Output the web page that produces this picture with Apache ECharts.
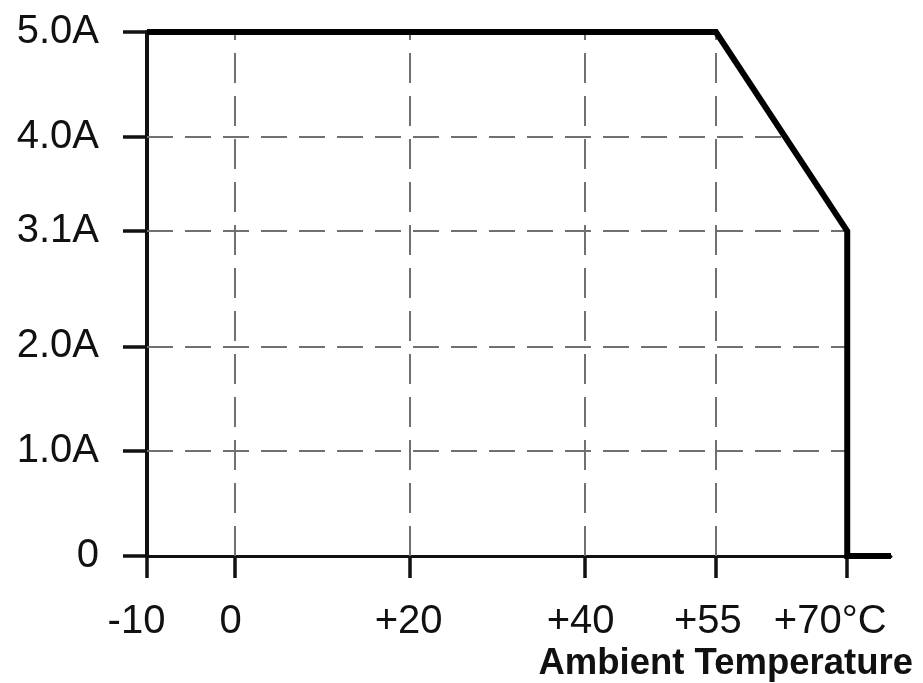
<!DOCTYPE html>
<html>
<head>
<meta charset="utf-8">
<script src="https://cdn.jsdelivr.net/npm/echarts@6/dist/echarts.min.js"></script>
<style>
html,body{margin:0;padding:0;background:#fff;}
#chart{width:923px;height:683px;}
</style>
</head>
<body>
<div id="chart"></div>
<script>
// ---- data ----
const curveX = [-10, 55, 70, 70, 75];
const curveY = [5.0, 5.0, 3.1, 0, 0];
const xTicks = [-10, 0, 20, 40, 55, 70];
const xTickLabels = ['-10', '0', '+20', '+40', '+55', '+70°C'];
const yTicks = [0, 1.0, 2.0, 3.1, 4.0, 5.0];
const yTickLabels = ['0', '1.0A', '2.0A', '3.1A', '4.0A', '5.0A'];
const xGridValues = [0, 20, 40, 55];
const yGridValues = [1.0, 2.0, 3.1, 4.0];
const xAxisTitle = 'Ambient Temperature';

// x of the curve at a given current (for stopping horizontal grid lines at the curve)
function curveXAt(y) {
  for (let i = 0; i < 2; i++) {
    const y0 = curveY[i], y1 = curveY[i + 1];
    if ((y <= y0 && y >= y1) && y0 !== y1) {
      return curveX[i] + (y0 - y) / (y0 - y1) * (curveX[i + 1] - curveX[i]);
    }
  }
  return curveX[2];
}

const labelShift = [21, 8, 2, 8, 16, 34];
const rich = {};
labelShift.forEach((p, i) => {
  rich['s' + i] = { fontFamily: 'Liberation Sans', fontSize: 40, color: '#111', padding: [0, p, 0, 0] };
});

const gridLineStyleH = { type: [26, 12], color: '#707070', width: 2 };
const gridLineStyleV = { type: [30, 13], color: '#707070', width: 2 };

const markData = [];
xGridValues.forEach(v => {
  markData.push([{ coord: [v, 0], lineStyle: gridLineStyleV }, { coord: [v, curveY[0]] }]);
});
yGridValues.forEach(v => {
  const xe = Math.min(curveX[2], curveXAt(v));
  markData.push([{ coord: [curveX[0], v], lineStyle: gridLineStyleH }, { coord: [xe, v] }]);
});

const chart = echarts.init(document.getElementById('chart'), null, { renderer: 'canvas' });
chart.setOption({
  animation: false,
  backgroundColor: '#fff',
  title: {
    text: xAxisTitle,
    right: 5,
    top: 640,
    textStyle: { fontFamily: 'Liberation Sans', fontWeight: 'bold', fontSize: 36.5, color: '#111' }
  },
  grid: { left: 147, right: 32, top: 32, bottom: 127, containLabel: false },
  xAxis: {
    type: 'value',
    min: -10,
    max: 75,
    axisLine: { show: true, onZero: false, lineStyle: { color: '#111', width: 3 } },
    axisTick: { show: true, customValues: xTicks, length: 22, lineStyle: { color: '#111', width: 3.5 } },
    axisLabel: {
      show: true,
      customValues: xTicks,
      margin: 46,
      formatter: function (v) {
        const i = xTicks.indexOf(v);
        return i >= 0 ? '{s' + i + '|' + xTickLabels[i] + '}' : '';
      },
      rich: rich,
      fontFamily: 'Liberation Sans', fontSize: 40, color: '#111'
    },
    splitLine: { show: false }
  },
  yAxis: {
    type: 'value',
    min: 0,
    max: 5,
    axisLine: { show: true, onZero: false, lineStyle: { color: '#111', width: 4 } },
    axisTick: { show: true, customValues: yTicks, length: 24, lineStyle: { color: '#111', width: 3.5 } },
    axisLabel: {
      show: true,
      customValues: yTicks,
      margin: 48,
      formatter: function (v) {
        const i = yTicks.indexOf(v);
        return i >= 0 ? yTickLabels[i] : '';
      },
      fontFamily: 'Liberation Sans', fontSize: 40, color: '#111'
    },
    splitLine: { show: false }
  },
  series: [
    {
      type: 'line',
      data: curveX.map((x, i) => [x, curveY[i]]),
      showSymbol: false,
      symbol: 'none',
      z: 5,
      lineStyle: { color: '#000', width: 6, join: 'miter' },
      markLine: {
        silent: true,
        symbol: ['none', 'none'],
        label: { show: false },
        animation: false,
        z: 1,
        data: markData
      }
    }
  ]
});
</script>
</body>
</html>
